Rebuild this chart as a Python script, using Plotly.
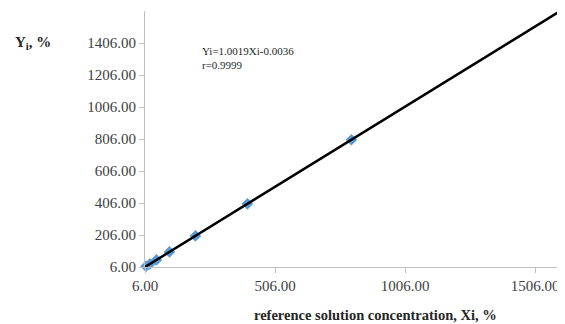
import plotly.graph_objects as go

# data
x_points = [10, 25, 50, 100, 200, 400, 800]
y_points = [10.0, 25.1, 50.2, 100.3, 200.5, 400.6, 801.4]
fit_x = [6, 1594]
slope = 1.0019
intercept = -0.0036
fit_y = [slope * v + intercept for v in fit_x]
x_ticks = [6, 506, 1006, 1506]
y_ticks = [6, 206, 406, 606, 806, 1006, 1206, 1406]

font_family = "Liberation Serif, Times New Roman, serif"

fig = go.Figure()
fig.add_trace(go.Scatter(
    x=x_points, y=y_points, mode="markers",
    marker=dict(symbol="diamond", size=9, color="#5B9BD5"),
    cliponaxis=False, showlegend=False,
))
fig.add_trace(go.Scatter(
    x=fit_x, y=fit_y, mode="lines",
    line=dict(color="black", width=2.5),
    showlegend=False,
))

fig.update_layout(
    width=557, height=316,
    margin=dict(l=137, r=4, t=3, b=57),
    plot_bgcolor="white", paper_bgcolor="white",
    font=dict(family=font_family, size=15, color="#404040"),
    xaxis=dict(
        range=[6, 1606], tickvals=x_ticks,
        ticktext=[f"{v:.2f}" for v in x_ticks],
        showgrid=False, zeroline=False, showline=True,
        linecolor="#bfbfbf", linewidth=1,
        ticks="outside", ticklen=5, tickcolor="#bfbfbf",
    ),
    yaxis=dict(
        range=[6, 1606], tickvals=y_ticks,
        ticktext=[f"{v:.2f}" for v in y_ticks],
        showgrid=False, zeroline=False, showline=True,
        linecolor="#bfbfbf", linewidth=1,
        ticks="outside", ticklen=5, tickcolor="#bfbfbf",
    ),
    annotations=[
        dict(text="<b>Y<sub>i</sub>, %</b>", xref="paper", yref="paper",
             x=-0.317, y=0.875, xanchor="left", yanchor="middle",
             showarrow=False, font=dict(size=15, color="#262626")),
        dict(text="<b>reference solution concentration, Xi, %</b>",
             xref="paper", yref="paper", x=0.553, y=-0.15,
             xanchor="center", yanchor="top", showarrow=False,
             font=dict(size=14.5, color="#262626")),
        dict(text="Yi=1.0019Xi-0.0036", xref="paper", yref="paper",
             x=0.132, y=0.842, xanchor="left", yanchor="middle",
             showarrow=False, font=dict(size=11, color="#262626")),
        dict(text="r=0.9999", xref="paper", yref="paper",
             x=0.132, y=0.79, xanchor="left", yanchor="middle",
             showarrow=False, font=dict(size=11, color="#262626")),
    ],
)

fig.write_html("out.html")
